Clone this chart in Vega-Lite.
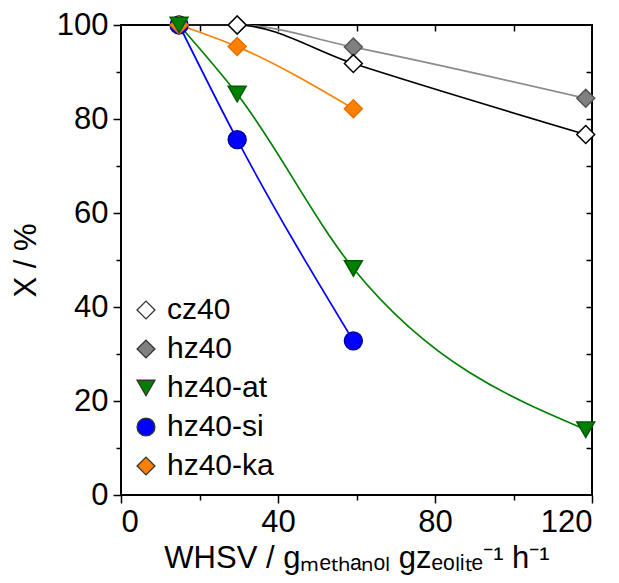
{
  "$schema": "https://vega.github.io/schema/vega-lite/v6.json",
  "width": 471,
  "height": 470,
  "autosize": {"type": "none"},
  "padding": {"left": 121, "top": 25, "right": 27, "bottom": 88},
  "background": "white",
  "config": {
    "view": {"stroke": "black", "strokeWidth": 2},
    "font": "Liberation Sans",
    "axis": {
      "domain": false,
      "grid": false,
      "tickColor": "black",
      "tickWidth": 1.5,
      "labelColor": "black",
      "labelFont": "Liberation Sans",
      "labelFontSize": 31,
      "titleFont": "Liberation Sans",
      "titleFontSize": 31,
      "titleFontWeight": "normal",
      "titleColor": "black"
    }
  },
  "data": {
    "values": [
      {"sample": "hz40", "whsv": 14.8, "X": 100},
      {"sample": "hz40", "whsv": 29.6, "X": 100},
      {"sample": "hz40", "whsv": 59.2, "X": 95.3},
      {"sample": "hz40", "whsv": 118.4, "X": 84.4},
      {"sample": "cz40", "whsv": 14.8, "X": 100},
      {"sample": "cz40", "whsv": 29.6, "X": 100},
      {"sample": "cz40", "whsv": 59.2, "X": 91.8},
      {"sample": "cz40", "whsv": 118.4, "X": 76.7},
      {"sample": "hz40-si", "whsv": 14.8, "X": 100},
      {"sample": "hz40-si", "whsv": 29.6, "X": 75.6},
      {"sample": "hz40-si", "whsv": 59.2, "X": 32.8},
      {"sample": "hz40-ka", "whsv": 14.8, "X": 100},
      {"sample": "hz40-ka", "whsv": 29.6, "X": 95.4},
      {"sample": "hz40-ka", "whsv": 59.2, "X": 82.2},
      {"sample": "hz40-at", "whsv": 14.8, "X": 100},
      {"sample": "hz40-at", "whsv": 29.6, "X": 85.3},
      {"sample": "hz40-at", "whsv": 59.2, "X": 48.2},
      {"sample": "hz40-at", "whsv": 118.4, "X": 13.9}
    ]
  },
  "layer": [
    {
      "mark": {"type": "line", "interpolate": "monotone", "strokeWidth": 1.7},
      "encoding": {
        "x": {
          "field": "whsv", "type": "quantitative",
          "scale": {"domain": [0, 120], "nice": false},
          "axis": {
            "orient": "bottom",
            "values": [0, 20, 40, 60, 80, 100, 120],
            "labelExpr": "datum.value % 40 === 0 ? datum.label : ''",
            "tickSize": {"condition": {"test": "datum.value % 40 === 0", "value": 8}, "value": 5},
            "labelPadding": 4,
            "title": "WHSV / gₘₑₜₕₐₙₒₗ gzₑₒₗᵢₜₑ⁻¹ h⁻¹",
            "titlePadding": 6
          }
        },
        "y": {
          "field": "X", "type": "quantitative",
          "scale": {"domain": [0, 100], "nice": false},
          "axis": {
            "orient": "left",
            "values": [0, 10, 20, 30, 40, 50, 60, 70, 80, 90, 100],
            "labelExpr": "datum.value % 20 === 0 ? datum.label : ''",
            "tickSize": {"condition": {"test": "datum.value % 20 === 0", "value": 8}, "value": 5},
            "labelPadding": 5,
            "title": "X / %",
            "titlePadding": 14
          }
        },
        "detail": {"field": "sample", "type": "nominal"},
        "stroke": {
          "field": "sample", "type": "nominal",
          "scale": {"domain": ["cz40", "hz40", "hz40-at", "hz40-si", "hz40-ka"], "range": ["#000000", "#8c8c8c", "#008000", "#0000ff", "#ff8000"]},
          "legend": null
        }
      }
    },
    {
      "mark": {"type": "point", "filled": true, "opacity": 1, "strokeWidth": 1.5},
      "encoding": {
        "x": {
          "field": "whsv", "type": "quantitative",
          "axis": {"orient": "top", "values": [20, 40, 60, 80, 100], "labels": false, "tickSize": 6, "offset": -6, "title": null}
        },
        "y": {
          "field": "X", "type": "quantitative",
          "axis": {"orient": "right", "values": [10, 20, 30, 40, 50, 60, 70, 80, 90], "labels": false, "tickSize": 6, "offset": -6, "title": null}
        },
        "shape": {
          "field": "sample", "type": "nominal",
          "scale": {"domain": ["cz40", "hz40", "hz40-at", "hz40-si", "hz40-ka"], "range": ["diamond", "diamond", "triangle-down", "circle", "diamond"]},
          "legend": {
            "title": null,
            "orient": "none",
            "legendX": 10,
            "legendY": 270,
            "labelFontSize": 30,
            "labelFont": "Liberation Sans",
            "labelColor": "black",
            "symbolSize": 320,
            "symbolStrokeColor": "#333333",
            "symbolStrokeWidth": 1.3,
            "labelOffset": 6,
            "rowPadding": 9
          }
        },
        "color": {
          "field": "sample", "type": "nominal",
          "scale": {"domain": ["cz40", "hz40", "hz40-at", "hz40-si", "hz40-ka"], "range": ["#ffffff", "#808080", "#008000", "#0000ff", "#ff8000"]},
          "legend": {
            "title": null,
            "orient": "none",
            "legendX": 10,
            "legendY": 270,
            "labelFontSize": 30,
            "labelFont": "Liberation Sans",
            "labelColor": "black",
            "symbolSize": 320,
            "symbolStrokeColor": "#333333",
            "symbolStrokeWidth": 1.3,
            "labelOffset": 6,
            "rowPadding": 9
          }
        },
        "stroke": {
          "field": "sample", "type": "nominal",
          "scale": {"domain": ["cz40", "hz40", "hz40-at", "hz40-si", "hz40-ka"], "range": ["#000000", "#555555", "#005a00", "#0000a0", "#e87000"]},
          "legend": null
        },
        "size": {"value": 320}
      }
    }
  ],
  "resolve": {"axis": {"x": "independent", "y": "independent"}, "scale": {"stroke": "independent"}}
}
